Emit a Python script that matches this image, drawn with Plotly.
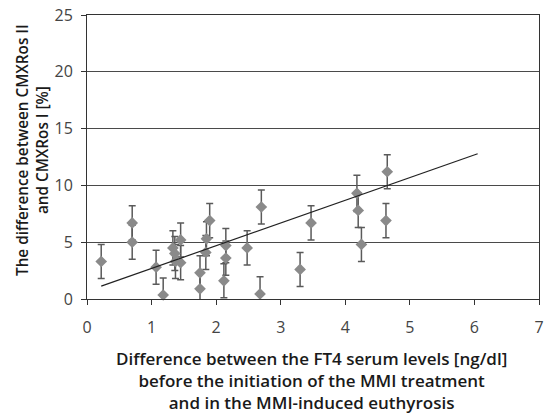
import numpy as np
import plotly.graph_objects as go

ft4_diff = [0.22, 0.70, 0.70, 1.07, 1.18, 1.33, 1.36, 1.37, 1.45, 1.45, 1.75, 1.75, 1.84,
            1.85, 1.90, 2.12, 2.15, 2.15, 2.48, 2.70, 2.68, 3.30, 3.47, 4.18, 4.20, 4.25,
            4.65, 4.63]
cmx_diff = [3.3, 6.7, 5.0, 2.8, 0.35, 4.5, 4.0, 3.3, 5.2, 3.2, 2.3, 0.9, 4.1,
            5.3, 6.9, 1.6, 3.6, 4.7, 4.5, 8.1, 0.45, 2.6, 6.7, 9.3, 7.8, 4.8,
            11.2, 6.9]
cmx_err = [1.5, 1.5, 1.5, 1.5, 1.5, 1.5, 1.5, 1.5, 1.5, 1.5, 1.5, 1.5, 1.5,
           1.5, 1.5, 1.5, 1.5, 1.5, 1.5, 1.5, 1.5, 1.5, 1.5, 1.6, 1.5, 1.5,
           1.5, 1.5]
# linear trendline as printed on the chart
trend_slope = 2.0
trend_intercept = 0.69
trend_x_range = [0.22, 6.05]
x_ticks = [0, 1, 2, 3, 4, 5, 6, 7]
y_ticks = [0, 5, 10, 15, 20, 25]

tx = np.array(trend_x_range)
ty = trend_slope * tx + trend_intercept

fig = go.Figure()
fig.add_trace(go.Scatter(
    x=ft4_diff, y=cmx_diff, mode="markers",
    marker=dict(symbol="diamond", size=9, color="#8a8a8a"),
    error_y=dict(type="data", array=cmx_err, visible=True, color="#5a5a5a",
                 thickness=1.5, width=3.5),
    showlegend=False, cliponaxis=False,
))
fig.add_trace(go.Scatter(
    x=tx, y=ty, mode="lines", line=dict(color="#222222", width=1.2),
    showlegend=False,
))

title_font = dict(family="Open Sans", size=17, color="#1a1a1a", weight=600)
ytitle_font = dict(family="Open Sans", size=15.3, color="#1a1a1a", weight=600)

fig.update_layout(
    width=544, height=419,
    margin=dict(l=87, r=5, t=15, b=120),
    plot_bgcolor="white", paper_bgcolor="white",
    font=dict(family="Open Sans", size=16, color="#444444"),
    xaxis=dict(range=[0, 7], tickvals=x_ticks, showgrid=False, zeroline=False,
               showline=True, linecolor="#333333", linewidth=1, mirror=True,
               ticks="outside", ticklen=5, tickcolor="#333333", automargin=False,
               ticklabelstandoff=9),
    yaxis=dict(range=[0, 25], tickvals=y_ticks, showgrid=True, gridcolor="#4a4a4a",
               gridwidth=1, zeroline=False,
               showline=True, linecolor="#333333", linewidth=1, mirror=True,
               ticks="outside", ticklen=5, tickcolor="#333333", automargin=False,
               ticklabelstandoff=5),
    annotations=[
        dict(text="Difference between the FT4 serum levels [ng/dl]<br>"
                  "before the initiation of the MMI treatment<br>"
                  "and in the MMI-induced euthyrosis",
             xref="paper", yref="paper", x=0.5, y=0, xanchor="center", yanchor="middle",
             xshift=-2, yshift=-81, showarrow=False, font=title_font),
        dict(text="The difference between CMXRos II<br>and CMXRos I [%]",
             xref="paper", yref="paper", x=0, y=0.5, xanchor="center", yanchor="middle",
             xshift=-55, yshift=7, textangle=-90, showarrow=False, font=ytitle_font),
    ],
)
fig.write_html("out.html", config={"displayModeBar": False},
               post_script="document.body.style.margin='0';document.body.style.overflow='hidden';")
